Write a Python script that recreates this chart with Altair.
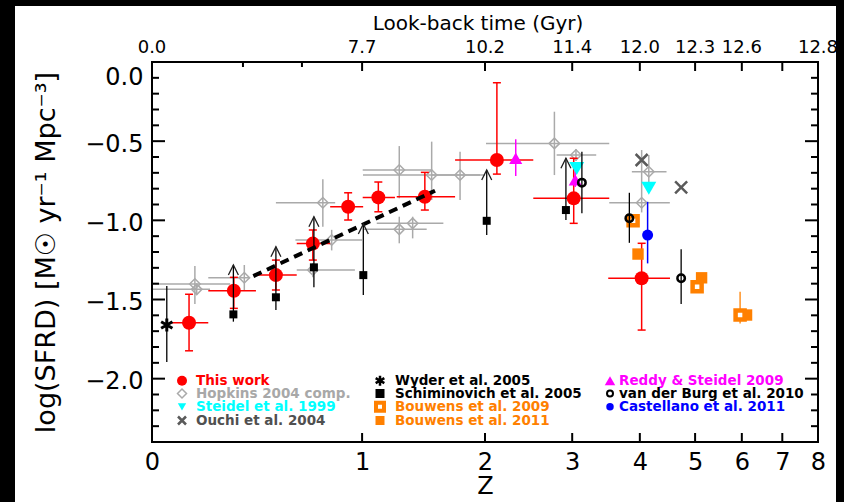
import altair as alt
import pandas as pd

FONT = "DejaVu Sans"

# ---------------- data ----------------
# This work (red filled circles with error bars)
tw_z   = [0.13, 0.31, 0.505, 0.70, 0.91, 1.11, 1.46, 2.12, 3.02, 4.03]
tw_v   = [-1.647, -1.445, -1.346, -1.147, -0.914, -0.855, -0.851, -0.619, -0.861, -1.366]
tw_zlo = [0.067, 0.204, 0.413, 0.612, 0.80, 1.004, 1.242, 1.718, 2.518, 3.505]
tw_zhi = [0.204, 0.409, 0.612, 0.80, 1.007, 1.229, 1.718, 2.518, 3.52, 4.523]
tw_vhi = [-1.467, -1.36, -1.251, -1.061, -0.826, -0.758, -0.697, -0.131, -0.608, -1.145]
tw_vlo = [-1.824, -1.556, -1.440, -1.251, -0.998, -0.946, -0.935, -0.708, -1.019, -1.693]

# Hopkins 2004 compilation (grey open diamonds)
hop_z   = [0.152, 0.159, 0.356, 0.70, 0.809, 0.757, 1.261, 1.516, 1.763, 1.261, 1.363, 2.772, 3.05, 4.15, 4.03]
hop_v   = [-1.402, -1.436, -1.363, -1.314, -1.124, -0.889, -0.682, -0.714, -0.714, -1.057, -1.019, -0.514, -0.587, -0.693, -0.889]
hop_zlo = [0.0, 0.0, 0.204, 0.612, 0.605, 0.505, 1.004, 1.006, 1.516, 1.006, 1.099, 2.01, 2.80, 3.87, 3.52]
hop_zhi = [0.294, 0.211, 0.382, 0.953, 1.0, 0.83, 1.516, 1.951, 2.0, 1.475, 1.615, 3.52, 3.33, 4.46, 4.52]
hop_vhi = [-1.289, -1.40, -1.282, -1.27, -1.06, -0.741, -0.531, -0.503, -0.567, -0.977, -0.977, -0.314, -0.55, -0.587, -0.556]
hop_vlo = [-1.529, -1.47, -1.44, -1.36, -1.19, -1.040, -0.861, -0.872, -0.872, -1.145, -1.114, -0.714, -0.625, -0.80, -0.95]

# Steidel et al. 1999
st_z = [3.06, 4.15]
st_v = [-0.672, -0.798]

# Ouchi et al. 2004
ou_z = [4.03, 4.73]
ou_v = [-0.619, -0.792]

# Wyder et al. 2005
wy_z   = [0.05]
wy_v   = [-1.661]
wy_vhi = [-1.415]
wy_vlo = [-1.895]

# Schiminovich et al. 2005 (squares + lower-limit arrows)
sc_z   = [0.308, 0.505, 0.706, 1.008, 2.017, 2.918]
sc_v   = [-1.594, -1.486, -1.297, -1.346, -1.003, -0.935]
sc_vlo = [-1.64, -1.567, -1.423, -1.472, -1.093, -0.998]
sc_lim = [-1.282, -1.167, -0.977, -1.023, -0.682, -0.608]

# Bouwens et al. 2009 (open squares) and 2011 (filled squares)
b09_z = [3.89, 5.04, 5.96]
b09_v = [-1.003, -1.419, -1.598]
b09e_z = [5.96]
b09e_hi = [-1.451]
b09e_lo = [-1.651]
b11_z = [3.97, 5.13, 6.11]
b11_v = [-1.213, -1.363, -1.598]

# Reddy & Steidel 2009
rd_z   = [2.32, 3.04]
rd_v   = [-0.608, -0.745]
rd_vhi = [-0.488, -0.69]
rd_vlo = [-0.72, -0.79]

# van der Burg et al. 2010
vb_z   = [3.13, 3.83, 4.73]
vb_v   = [-0.762, -0.987, -1.366]
vb_vhi = [-0.567, -0.826, -1.183]
vb_vlo = [-0.956, -1.142, -1.529]

# Castellano et al. 2011
ca_z   = [4.13]
ca_v   = [-1.093]
ca_vhi = [-0.883]
ca_vlo = [-1.272]

# dashed fit line
fit_z = [0.397, 1.544]
fit_v = [-1.352, -0.813]

# axes
y_major = [0.0, -0.5, -1.0, -1.5, -2.0]
y_minor = [-0.1, -0.2, -0.3, -0.4, -0.6, -0.7, -0.8, -0.9, -1.1, -1.2, -1.3, -1.4,
           -1.6, -1.7, -1.8, -1.9, -2.1, -2.2, -2.3]
x_major_z = [1, 2, 3, 4, 5, 6, 7]
top_minor_z = [0.35, 0.64]
top_z = [0, 1, 2, 3, 4, 5, 6, 8]
top_lab = ["0.0", "7.7", "10.2", "11.4", "12.0", "12.3", "12.6", "12.8"]

# legend
leg_labels = ["This work", "Hopkins 2004 comp.", "Steidel et al. 1999", "Ouchi et al. 2004",
              "Wyder et al. 2005", "Schiminovich et al. 2005", "Bouwens et al. 2009", "Bouwens et al. 2011",
              "Reddy & Steidel 2009", "van der Burg et al. 2010", "Castellano et al. 2011"]
leg_text_colors = ["#ff0000", "#a8a8a8", "#00ffff", "#505050",
                   "#000000", "#000000", "#ff8000", "#ff8000",
                   "#ff00ff", "#000000", "#0000ff"]
leg_col = [0, 0, 0, 0, 1, 1, 1, 1, 2, 2, 2]
leg_row = [0, 1, 2, 3, 0, 1, 2, 3, 0, 1, 2]

# ---------------- styling / layout ----------------
W, H = 666, 380
RED = "#ff0000"
GRAY = "#aaaaaa"
CYAN = "#00ffff"
DGRAY = "#5a5a5a"
ORANGE = "#ff8000"
MAGENTA = "#ff00ff"
BLUE = "#0000ff"
YT = "log(SFRD)  [M\u2609 yr\u207b\u00b9 Mpc\u207b\u00b3]"

CAP = "M-1,0L1,0"
ARROW = "M-1,2L0,0L1,2"
ASTER = "M0,-1L0,1M-0.87,-0.5L0.87,0.5M-0.87,0.5L0.87,-0.5"
XCROSS = "M-1,-1L1,1M-1,1L1,-1"

xs = alt.Scale(type="log", domain=[1, 9])
ys = alt.Scale(domain=[-2.4, 0])

x_axis = alt.Axis(values=[1, 2, 3, 4, 5, 6, 7, 8, 9], labelExpr="format(datum.value - 1, 'd')",
                  ticks=False, tickSize=0, domain=False, grid=False, labelFont=FONT, labelFontSize=24,
                  labelColor="black", labelPadding=8, labelOverlap=False, labelFlush=False,
                  titleFont=FONT, titleFontSize=24, titleFontWeight="normal", titleColor="black",
                  titlePadding=0, zindex=1)
y_axis = alt.Axis(values=y_major, labelExpr="format(datum.value, '.1f')",
                  ticks=False, tickSize=0, domain=False, grid=False, labelFont=FONT, labelFontSize=24,
                  labelColor="black", labelPadding=9, labelOffset=3, labelFlush=True, labelOverlap=False,
                  titleFont=FONT, titleFontSize=27, titleFontWeight="normal", titleColor="black",
                  titlePadding=24, zindex=1)


def X(f):
    return alt.X(f"{f}:Q", scale=xs, axis=x_axis, title="Z")


def Y(f):
    return alt.Y(f"{f}:Q", scale=ys, axis=y_axis, title=YT)


def zp(lst):
    return [1 + v for v in lst]


one = pd.DataFrame({"a": [0]})
L = []

# white figure area on black page
L.append(alt.Chart(one).mark_rect(color="white").encode(
    x=alt.value(-137), x2=alt.value(684), y=alt.value(-56), y2=alt.value(440)))

# Hopkins
hop = pd.DataFrame(dict(x=zp(hop_z), xlo=zp(hop_zlo), xhi=zp(hop_zhi), v=hop_v, vlo=hop_vlo, vhi=hop_vhi))
L.append(alt.Chart(hop).mark_rule(color=GRAY, strokeWidth=1.5).encode(x=X("xlo"), x2=alt.X2("xhi"), y=Y("v")))
L.append(alt.Chart(hop).mark_rule(color=GRAY, strokeWidth=1.5).encode(x=X("x"), y=Y("vlo"), y2=alt.Y2("vhi")))
L.append(alt.Chart(hop).mark_point(shape="diamond", size=110, color=GRAY, strokeWidth=1.5,
                                   filled=False, opacity=1).encode(x=X("x"), y=Y("v")))

# This work
tw = pd.DataFrame(dict(x=zp(tw_z), xlo=zp(tw_zlo), xhi=zp(tw_zhi), v=tw_v, vlo=tw_vlo, vhi=tw_vhi))
L.append(alt.Chart(tw).mark_rule(color=RED, strokeWidth=1.5).encode(x=X("xlo"), x2=alt.X2("xhi"), y=Y("v")))
L.append(alt.Chart(tw).mark_rule(color=RED, strokeWidth=1.5).encode(x=X("x"), y=Y("vlo"), y2=alt.Y2("vhi")))
L.append(alt.Chart(tw).mark_point(shape=CAP, size=64, color=RED, strokeWidth=1.5, filled=False,
                                  opacity=1).encode(x=X("x"), y=Y("vlo")))
L.append(alt.Chart(tw).mark_point(shape=CAP, size=64, color=RED, strokeWidth=1.5, filled=False,
                                  opacity=1).encode(x=X("x"), y=Y("vhi")))
L.append(alt.Chart(tw).mark_point(shape="circle", size=196, color=RED, filled=True,
                                  opacity=1).encode(x=X("x"), y=Y("v")))

# dashed fit
fit = pd.DataFrame(dict(x=zp(fit_z), v=fit_v))
L.append(alt.Chart(fit).mark_line(color="black", strokeWidth=4, strokeDash=[9, 6]).encode(x=X("x"), y=Y("v")))

# Reddy & Steidel
rd = pd.DataFrame(dict(x=zp(rd_z), v=rd_v, vlo=rd_vlo, vhi=rd_vhi))
L.append(alt.Chart(rd).mark_rule(color=MAGENTA, strokeWidth=1.5).encode(x=X("x"), y=Y("vlo"), y2=alt.Y2("vhi")))
L.append(alt.Chart(rd).mark_point(shape="triangle-up", size=170, color=MAGENTA, filled=True,
                                  opacity=1).encode(x=X("x"), y=Y("v")))

# Steidel
st = pd.DataFrame(dict(x=zp(st_z), v=st_v))
L.append(alt.Chart(st).mark_point(shape="triangle-down", size=225, color=CYAN, filled=True,
                                  opacity=1).encode(x=X("x"), y=Y("v")))

# Schiminovich
sc = pd.DataFrame(dict(x=zp(sc_z), v=sc_v, vlo=sc_vlo, lim=sc_lim))
L.append(alt.Chart(sc).mark_rule(color="black", strokeWidth=1.3).encode(x=X("x"), y=Y("vlo"), y2=alt.Y2("lim")))
L.append(alt.Chart(sc).mark_point(shape=ARROW, size=100, color="#202020", strokeWidth=1.3, filled=False,
                                  opacity=1).encode(x=X("x"), y=Y("lim")))
L.append(alt.Chart(sc).mark_point(shape="square", size=64, color="black", filled=True,
                                  opacity=1).encode(x=X("x"), y=Y("v")))

# Wyder
wy = pd.DataFrame(dict(x=zp(wy_z), v=wy_v, vlo=wy_vlo, vhi=wy_vhi))
L.append(alt.Chart(wy).mark_rule(color="black", strokeWidth=1.3).encode(x=X("x"), y=Y("vlo"), y2=alt.Y2("vhi")))
L.append(alt.Chart(wy).mark_point(shape=ASTER, size=169, color="black", strokeWidth=3, filled=False,
                                  opacity=1).encode(x=X("x"), y=Y("v")))

# Bouwens 2011 (filled) and 2009 (open)
b11 = pd.DataFrame(dict(x=zp(b11_z), v=b11_v))
L.append(alt.Chart(b11).mark_point(shape="square", size=130, color=ORANGE, filled=True,
                                   opacity=1).encode(x=X("x"), y=Y("v")))
b09e = pd.DataFrame(dict(x=zp(b09e_z), vlo=b09e_lo, vhi=b09e_hi))
L.append(alt.Chart(b09e).mark_rule(color=ORANGE, strokeWidth=1.3).encode(x=X("x"), y=Y("vlo"), y2=alt.Y2("vhi")))
b09 = pd.DataFrame(dict(x=zp(b09_z), v=b09_v))
L.append(alt.Chart(b09).mark_point(shape="square", size=81, color=ORANGE, strokeWidth=4.5, filled=False,
                                   fill="white", opacity=1).encode(x=X("x"), y=Y("v")))

# Castellano
ca = pd.DataFrame(dict(x=zp(ca_z), v=ca_v, vlo=ca_vlo, vhi=ca_vhi))
L.append(alt.Chart(ca).mark_rule(color=BLUE, strokeWidth=1.5).encode(x=X("x"), y=Y("vlo"), y2=alt.Y2("vhi")))
L.append(alt.Chart(ca).mark_point(shape="circle", size=121, color=BLUE, filled=True,
                                  opacity=1).encode(x=X("x"), y=Y("v")))

# van der Burg
vb = pd.DataFrame(dict(x=zp(vb_z), v=vb_v, vlo=vb_vlo, vhi=vb_vhi))
L.append(alt.Chart(vb).mark_rule(color="black", strokeWidth=1.3).encode(x=X("x"), y=Y("vlo"), y2=alt.Y2("vhi")))
L.append(alt.Chart(vb).mark_point(shape="circle", size=56, color="black", strokeWidth=2.5, filled=False,
                                  opacity=1).encode(x=X("x"), y=Y("v")))

# Ouchi
ou = pd.DataFrame(dict(x=zp(ou_z), v=ou_v))
L.append(alt.Chart(ou).mark_point(shape=XCROSS, size=144, color=DGRAY, strokeWidth=2.5, filled=False,
                                  opacity=1).encode(x=X("x"), y=Y("v")))

# ---------------- ticks (inward, IDL style) ----------------
ymaj = pd.DataFrame(dict(v=y_major))
ymin = pd.DataFrame(dict(v=y_minor))
for d, ln in ((ymaj, 13), (ymin, 7)):
    L.append(alt.Chart(d).mark_rule(color="black", strokeWidth=2).encode(
        y=Y("v"), x=alt.value(0), x2=alt.value(ln)))
    L.append(alt.Chart(d).mark_rule(color="black", strokeWidth=2).encode(
        y=Y("v"), x=alt.value(W), x2=alt.value(W - ln)))
xmaj = pd.DataFrame(dict(x=zp(x_major_z)))
L.append(alt.Chart(xmaj).mark_rule(color="black", strokeWidth=2).encode(
    x=X("x"), y=alt.value(H), y2=alt.value(H - 9)))
L.append(alt.Chart(xmaj).mark_rule(color="black", strokeWidth=2).encode(
    x=X("x"), y=alt.value(0), y2=alt.value(9)))
tmin = pd.DataFrame(dict(x=zp(top_minor_z)))
L.append(alt.Chart(tmin).mark_rule(color="black", strokeWidth=2).encode(
    x=X("x"), y=alt.value(0), y2=alt.value(5)))

# top axis (look-back time)
top = pd.DataFrame(dict(x=zp(top_z), lab=top_lab))
L.append(alt.Chart(top).mark_text(font=FONT, fontSize=18, color="black", baseline="middle",
                                  align="center").encode(x=X("x"), y=alt.value(-14), text="lab:N"))
L.append(alt.Chart(one).mark_text(font=FONT, fontSize=20, color="black", baseline="middle",
                                  align="center", text="Look-back time (Gyr)").encode(
    x=alt.value(326), y=alt.value(-38)))

# frame
L.append(alt.Chart(one).mark_rect(fillOpacity=0, stroke="black", strokeWidth=2).encode(
    x=alt.value(0), x2=alt.value(W), y=alt.value(0), y2=alt.value(H)))

# ---------------- legend ----------------
col_marker_x = [30, 228, 458]
col_text_x = [44, 243, 467]
row_y = [318.7, 331.5, 344.8, 358.5]
leg_marks = [
    dict(shape="circle", size=100, color=RED, filled=True),
    dict(shape="diamond", size=81, color=GRAY, filled=False, strokeWidth=1.5),
    dict(shape="triangle-down", size=70, color=CYAN, filled=True),
    dict(shape=XCROSS, size=64, color=DGRAY, filled=False, strokeWidth=2.5),
    dict(shape=ASTER, size=100, color="black", filled=False, strokeWidth=2.5),
    dict(shape="square", size=81, color="black", filled=True),
    dict(shape="square", size=64, color=ORANGE, filled=False, fill="white", strokeWidth=4),
    dict(shape="square", size=81, color=ORANGE, filled=True),
    dict(shape="triangle-up", size=110, color=MAGENTA, filled=True),
    dict(shape="circle", size=36, color="black", filled=False, strokeWidth=2),
    dict(shape="circle", size=56, color=BLUE, filled=True),
]
for i, lab in enumerate(leg_labels):
    mx = col_marker_x[leg_col[i]]
    tx = col_text_x[leg_col[i]]
    yy = row_y[leg_row[i]]
    L.append(alt.Chart(one).mark_point(opacity=1, **leg_marks[i]).encode(
        x=alt.value(mx), y=alt.value(yy)))
    L.append(alt.Chart(one).mark_text(font=FONT, fontSize=13.5, fontWeight="bold", color=leg_text_colors[i],
                                      align="left", baseline="middle", text=lab).encode(
        x=alt.value(tx), y=alt.value(yy)))

chart = alt.layer(*L).properties(
    width=W, height=H,
    padding={"left": 152, "top": 62, "right": 26, "bottom": 60},
    autosize=alt.AutoSizeParams(type="none"),
    background="black",
).configure_view(stroke=None)

chart.save("out.html", embed_options={"renderer": "svg", "actions": False})
